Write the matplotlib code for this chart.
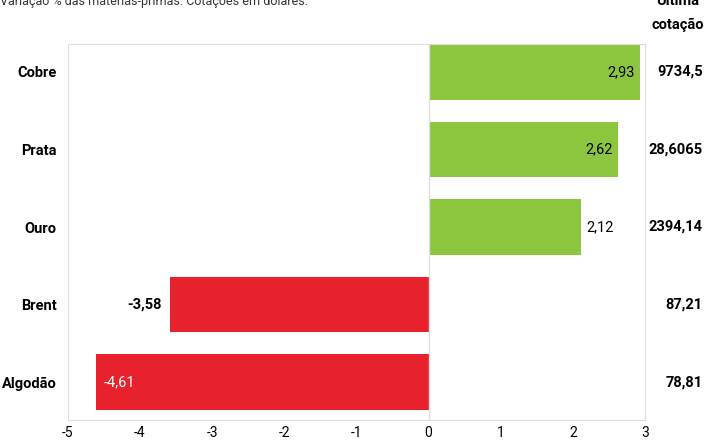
import matplotlib
matplotlib.use("Agg")
import matplotlib.pyplot as plt

categories = ["Cobre", "Prata", "Ouro", "Brent", "Algodão"]
values = [2.93, 2.62, 2.12, -3.58, -4.61]
labels = ["2,93", "2,62", "2,12", "-3,58", "-4,61"]
quotes = ["9734,5", "28,6065", "2394,14", "87,21", "78,81"]

plt.rcParams['font.family'] = ['Roboto', 'DejaVu Sans']
plt.rcParams['axes.unicode_minus'] = False
fig = plt.figure(figsize=(7.15, 4.45), dpi=100)
ax = fig.add_axes([0.095, 0.056, 0.807, 0.845])
ys = list(range(len(categories)))[::-1]
colors = ["#8cc63f" if v > 0 else "#e8222d" for v in values]
ax.barh(ys, values, height=0.72, color=colors)
ax.set_xlim(-5, 3)
ax.set_ylim(-0.49, 4.36)
ax.set_xticks(range(-5, 4))
ax.tick_params(axis='x', length=0, labelsize=10, pad=4)
ax.set_yticks(ys)
ax.set_yticklabels(categories, fontsize=10.5, fontweight='bold')
ax.tick_params(axis='y', length=0, pad=8)
for s in ax.spines.values():
    s.set_color("#dddddd")
ax.axvline(0, color="#dddddd", lw=1)
inside = [True, True, False, False, True]
for y, v, l, ins in zip(ys, values, labels, inside):
    if v > 0:
        if ins:
            ax.text(v - 0.07, y, l, ha='right', va='center', fontsize=10.5, color='black')
        else:
            ax.text(v + 0.07, y, l, ha='left', va='center', fontsize=10.5, color='black')
    else:
        if ins:
            ax.text(v + 0.1, y, l, ha='left', va='center', fontsize=10.5, color='white')
        else:
            ax.text(v - 0.12, y, l, ha='right', va='center', fontsize=10.5, color='black', fontweight='bold')
for y, q in zip(ys, quotes):
    ax.text(1.10, y, q, transform=ax.get_yaxis_transform(), ha='right', va='center', fontsize=10.5, fontweight='bold')
fig.text(0.0, 0.997, "Variação % das matérias-primas. Cotações em dólares.", ha='left', va='center', fontsize=9, color='#333333')
fig.text(0.948, 0.997, "Última", ha='center', va='center', fontsize=10.5, fontweight='bold')
fig.text(0.948, 0.945, "cotação", ha='center', va='center', fontsize=10.5, fontweight='bold')
fig.savefig("out.png", dpi=100)
